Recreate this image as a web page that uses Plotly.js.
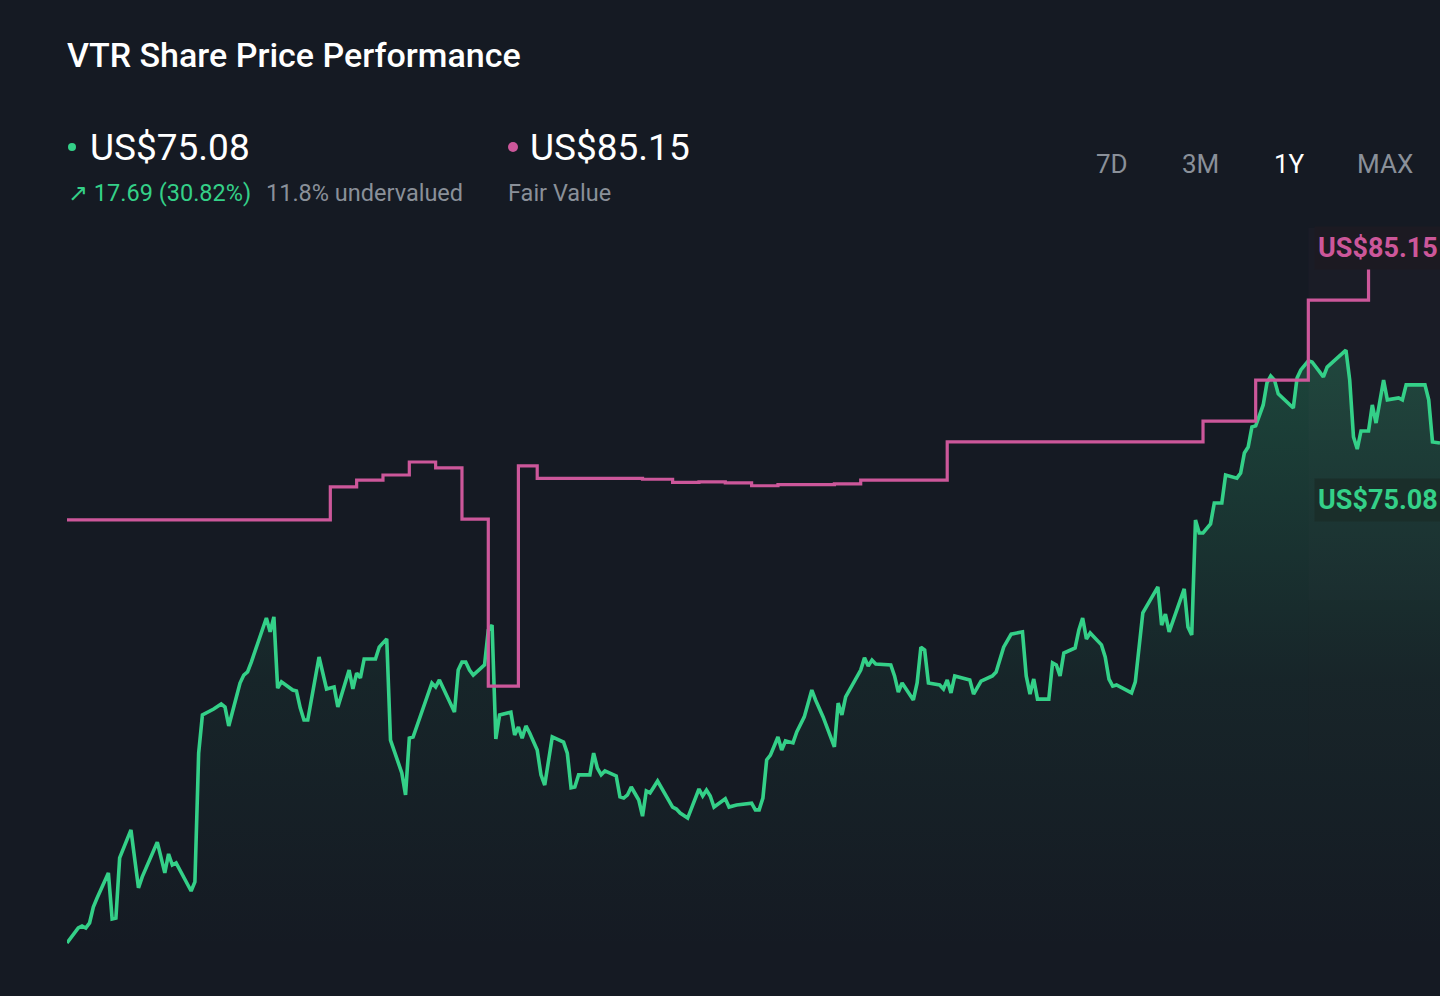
<!DOCTYPE html>
<html>
<head>
<meta charset="utf-8">
<script src="https://cdn.plot.ly/plotly-3.0.1.min.js"></script>
<style>
  html, body { margin: 0; padding: 0; background: #151a23; }
  #chart { width: 1440px; height: 996px; }
</style>
</head>
<body>
<div id="chart"></div>
<script>
// ---- DATA ----
// Day offset within the one-year window and VTR close price (US$)
const priceDays = [0,3,4,5,6,7,8,11,12,13,14,17,19,20,24,26,27,28,29,33,34,35,36,39,41,42,43,46,47,48,49,53,54,55,56,57,60,61,62,63,64,67,69,71,72,75,76,77,78,79,82,83,84,85,86,89,90,91,92,97,98,99,103,104,105,106,107,108,111,112,113,114,115,118,119,120,121,122,123,125,126,127,129,132,133,134,135,136,139,140,141,142,143,146,147,148,149,150,152,153,154,155,156,157,161,162,163,165,168,169,170,171,172,175,176,178,182,183,184,185,186,187,189,190,191,193,194,195,196,198,199,201,204,205,206,207,210,211,212,213,214,215,219,220,221,222,225,226,227,228,229,232,233,234,235,236,240,241,243,246,247,249,251,254,255,256,257,258,261,262,263,264,265,268,269,270,271,272,275,276,277,278,279,283,284,285,286,290,291,292,293,297,298,299,300,301,302,304,305,307,308,311,312,313,314,315,316,318,319,320,321,322,326,327,328,330,331,333,334,335,340,341,342,343,344,346,347,348,350,351,354,355,356,361,362,363,365];
const priceValues = [57.39,57.92,57.99,57.92,58.10,58.66,58.98,59.87,58.24,58.27,60.40,61.39,59.34,59.73,60.96,59.87,60.54,60.15,60.22,59.23,59.55,64.11,65.46,65.67,65.85,65.74,65.07,66.59,66.87,66.98,67.33,68.89,68.40,68.93,66.41,66.63,66.34,66.31,65.71,65.28,65.28,67.51,66.38,66.45,65.74,67.05,66.38,66.94,66.77,67.44,67.44,67.86,68.01,68.15,64.57,63.41,62.63,64.64,64.68,66.59,66.45,66.70,65.56,67.05,67.33,67.33,67.05,66.87,67.23,68.47,68.64,64.61,65.46,65.56,64.75,65.03,64.64,65.07,64.82,64.22,63.34,62.98,64.68,64.50,64.11,62.88,62.91,63.34,63.34,64.11,63.58,63.34,63.48,63.30,62.56,62.52,62.63,62.91,62.45,61.88,62.77,62.70,62.91,63.12,62.20,62.13,61.99,61.81,62.84,62.59,62.80,62.59,62.20,62.49,62.20,62.27,62.34,62.10,62.10,62.52,63.87,64.04,64.68,64.22,64.54,64.47,64.86,65.10,65.39,66.34,65.99,65.39,64.33,65.88,65.46,66.10,66.80,67.05,67.48,67.19,67.40,67.26,67.23,66.84,66.27,66.59,65.99,66.59,67.86,67.76,66.59,66.52,66.38,66.70,66.24,66.84,66.70,66.20,66.66,66.84,66.98,67.86,68.32,68.40,66.84,66.20,66.73,66.02,66.02,67.30,67.23,66.84,67.65,67.83,68.47,68.89,68.15,68.36,67.94,67.51,66.73,66.48,66.52,66.24,66.63,68.01,69.07,69.99,68.64,69.03,68.40,69.92,68.57,68.29,72.36,71.90,71.90,72.22,72.96,72.96,73.95,73.84,74.02,74.73,74.94,75.65,75.69,76.43,77.21,77.45,77.31,76.82,76.32,77.38,77.67,77.99,77.95,77.60,77.42,77.77,78.37,77.31,75.30,74.87,75.51,75.51,76.43,75.79,77.31,76.61,76.68,76.61,77.14,77.14,76.61,75.12,75.08];

// Fair value estimate (step series)
const fairDays = [0,70,77,84,91,98,105,112,120,125,153,161,168,175,182,189,204,211,234,302,316,330,346,365];
const fairValues = [72.36,73.53,73.77,73.95,74.41,74.20,72.39,66.48,74.27,73.83,73.80,73.69,73.71,73.67,73.57,73.61,73.64,73.77,75.12,75.86,77.31,80.14,81.63,81.63];

// Header texts
const chartTitle = "VTR Share Price Performance";
const lastPriceText = "US$75.08";
const changeText = "↗ 17.69 (30.82%)";
const valuationText = "11.8% undervalued";
const fairValueText = "US$85.15";
const fairValueLabel = "Fair Value";
const rangeLabels = ["7D", "3M", "1Y", "MAX"];
const activeRange = "1Y";

// ---- STYLE / LAYOUT ----
const W = 1440, H = 996;
const M = {l: 67, r: 0, t: 210, b: 46};
const plotW = W - M.l - M.r, plotH = H - M.t - M.b;
const px = x => (x - M.l) / plotW;          // pixel -> paper x
const py = y => (H - M.b - y) / plotH;      // pixel -> paper y

const BG = "#151a23";
const GREEN = "#34d088";
const PINK = "#cc579a";
const GREY = "#8a9099";
const FONT = "Roboto, 'Noto Sans', sans-serif";

const traces = [
  {
    x: priceDays, y: priceValues, type: "scatter", mode: "lines",
    line: {color: GREEN, width: 3.6, shape: "linear"},
    fill: "tozeroy",
    fillgradient: {
      type: "vertical",
      start: 57.1, stop: 78.4,
      colorscale: [[0, "rgba(52,208,136,0)"], [0.45, "rgba(52,208,136,0.06)"], [1, "rgba(52,208,136,0.24)"]]
    },
    hoverinfo: "skip"
  },
  {
    x: fairDays, y: fairValues, type: "scatter", mode: "lines",
    line: {color: PINK, width: 3.2, shape: "hv"},
    hoverinfo: "skip"
  }
];

const ann = [];
function txt(text, x, y, size, color, opts) {
  ann.push(Object.assign({
    text: text, xref: "paper", yref: "paper", x: px(x), y: py(y),
    xanchor: "left", yanchor: "middle", showarrow: false,
    font: {family: FONT, size: size, color: color}
  }, opts || {}));
}
txt(lastPriceText, 88, 148, 37, "#ffffff");
txt(changeText, 66, 193, 23.5, GREEN);
txt(valuationText, 264, 193, 23.5, GREY);
txt(fairValueText, 528, 148, 37, "#ffffff");
txt(fairValueLabel, 506, 193, 23.5, GREY);

const rangeCenters = [1112, 1200, 1289, 1385];
rangeLabels.forEach((r, i) => {
  ann.push({
    text: r, xref: "paper", yref: "paper", x: px(rangeCenters[i]), y: py(164),
    xanchor: "center", yanchor: "middle", showarrow: false,
    font: {family: FONT, size: 26, color: r === activeRange ? "#ffffff" : GREY}
  });
});

// end-of-line value labels
ann.push({
  text: "<b>" + fairValueText + "</b>", xref: "paper", yref: "paper",
  x: px(1314), y: py(248), xanchor: "left", yanchor: "middle", showarrow: false,
  align: "left", width: 150, height: 36, borderpad: 3,
  bgcolor: "#1c1a22", font: {family: FONT, size: 27, color: PINK}
});
ann.push({
  text: "<b>" + lastPriceText + "</b>", xref: "paper", yref: "paper",
  x: px(1314), y: py(500), xanchor: "left", yanchor: "middle", showarrow: false,
  align: "left", width: 150, height: 36, borderpad: 3,
  bgcolor: "#1a2e2a", font: {family: FONT, size: 27, color: GREEN}
});

// faint highlight of the latest fair-value period, fading downwards
const bands = [[228, 440, 0.032], [440, 600, 0.018], [600, 760, 0.008]];
const shapes = [
  {type: "circle", xref: "paper", yref: "paper", x0: px(68), x1: px(76), y0: py(151), y1: py(143),
   fillcolor: GREEN, line: {width: 0}},
  {type: "circle", xref: "paper", yref: "paper", x0: px(508), x1: px(518), y0: py(152), y1: py(142),
   fillcolor: PINK, line: {width: 0}}
];
bands.forEach(b => shapes.push({
  type: "rect", xref: "x", yref: "paper", x0: 330, x1: 365, y0: py(b[1]), y1: py(b[0]),
  fillcolor: "rgba(200,100,170," + b[2] + ")", line: {width: 0}, layer: "below"
}));

const layout = {
  width: W, height: H,
  paper_bgcolor: BG, plot_bgcolor: BG,
  margin: M,
  showlegend: false,
  title: {
    text: chartTitle, xref: "container", yref: "container",
    x: 67 / W, y: 1 - 55 / H, xanchor: "left", yanchor: "middle",
    font: {family: FONT, size: 34, weight: 500, color: "#ffffff"}
  },
  xaxis: {range: [0, 365], visible: false, fixedrange: true},
  yaxis: {range: [57.142, 83.328], visible: false, fixedrange: true},
  annotations: ann,
  shapes: shapes
};

Plotly.newPlot("chart", traces, layout, {staticPlot: true, displayModeBar: false});
</script>
</body>
</html>
